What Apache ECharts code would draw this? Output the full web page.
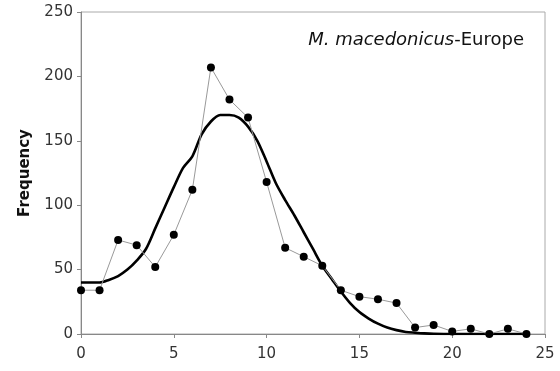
<!DOCTYPE html>
<html>
<head>
<meta charset="utf-8">
<script src="https://cdn.jsdelivr.net/npm/echarts@6/dist/echarts.min.js"></script>
<style>html,body{margin:0;padding:0;background:#fff}#c{width:560px;height:371px}</style>
</head>
<body>
<div id="c"></div>
<script>
var obsX = [0,1,2,3,4,5,6,7,8,9,10,11,12,13,14,15,16,17,18,19,20,21,22,23,24];
var obsY = [34,34,73,69,52,77,112,207,182,168,118,67,60,53,34,29,27,24,5,7,2,4,0,4,0];
var fitX = [0,0.5,1,1.5,2,2.5,3,3.5,4,4.5,5,5.5,6,6.5,7,7.5,8,8.5,9,9.5,10,10.5,11,11.5,12,12.5,13,13.5,14,14.5,15,15.5,16,16.5,17,17.5,18,18.5,19,20,21,22,23,24];
var fitY = [40,40,40,42,45,50,57,66,82,98,114,129,138,155,165,170,170,168,161,150,134,117,104,92,79,66,53,43,33,24,17,12,8,5,3,1.6,1,0.5,0.2,0,0,0,0,0];
var xTicks = [0,5,10,15,20,25];
var yTicks = [0,50,100,150,200,250];
var yName = 'Frequency';
var titleItalic = 'M. macedonicus';
var titleNormal = '-Europe';

function pairs(xs, ys){ return xs.map(function(x,i){ return [x, ys[i]]; }); }

var chart = echarts.init(document.getElementById('c'), null, {renderer:'canvas'});
chart.setOption({
  animation: false,
  backgroundColor: '#fff',
  title: {
    text: '{i|' + titleItalic + '}{n|' + titleNormal + '}',
    right: 31, top: 26,
    textStyle: {
      fontWeight: 'normal',
      rich: {
        i: {fontFamily: 'DejaVu Sans', fontSize: 18, fontStyle: 'italic', fontWeight: 'normal', color: '#111'},
        n: {fontFamily: 'DejaVu Sans', fontSize: 18, fontWeight: 'normal', color: '#111'}
      }
    }
  },
  grid: {left: 81, right: 15, top: 12, bottom: 37, show: true, borderColor: '#aaa', borderWidth: 1, backgroundColor: 'transparent'},
  xAxis: {
    type: 'value', min: xTicks[0], max: xTicks[xTicks.length-1], interval: 5,
    splitLine: {show: false},
    axisLine: {lineStyle: {color: '#888', width: 1}},
    axisTick: {show: true, inside: false, length: 4, lineStyle: {color: '#888'}},
    axisLabel: {margin: 13, fontFamily: 'DejaVu Sans', fontSize: 15, color: '#333'}
  },
  yAxis: {
    type: 'value', min: yTicks[0], max: yTicks[yTicks.length-1], interval: 50,
    name: yName, nameLocation: 'middle', nameGap: 48, nameRotate: 90,
    nameTextStyle: {fontFamily: 'DejaVu Sans', fontSize: 15, fontWeight: 'bold', color: '#111'},
    splitLine: {show: false},
    axisLine: {show: true, lineStyle: {color: '#888', width: 1}},
    axisTick: {show: true, inside: false, length: 4, lineStyle: {color: '#888'}},
    axisLabel: {margin: 8, fontFamily: 'DejaVu Sans', fontSize: 15, color: '#333'}
  },
  series: [
    {
      type: 'line', data: pairs(obsX, obsY),
      symbol: 'circle', symbolSize: 8, showSymbol: true,
      itemStyle: {color: '#000'},
      lineStyle: {color: '#999', width: 1},
      z: 3
    },
    {
      type: 'line', data: pairs(fitX, fitY),
      symbol: 'none', smooth: 0.3,
      lineStyle: {color: '#000', width: 2.6},
      z: 2
    }
  ]
});
</script>
</body>
</html>
